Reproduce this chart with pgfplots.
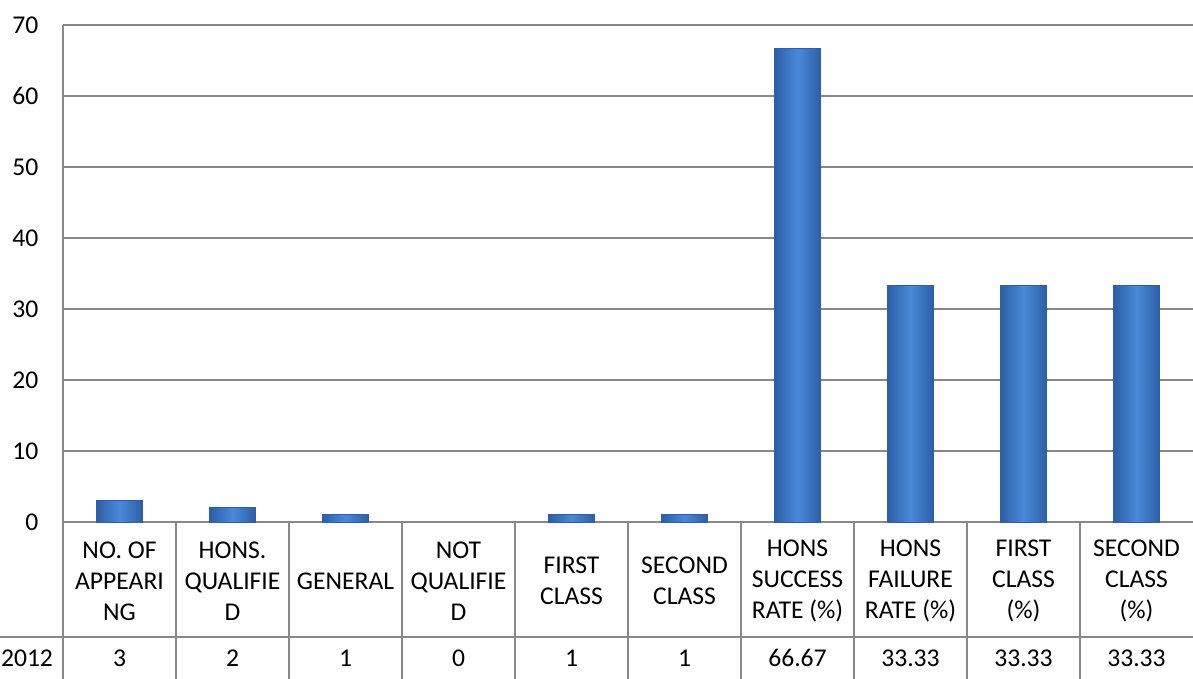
\documentclass[border=0pt]{standalone}
\usepackage{pgfplots}
\pgfplotsset{compat=1.18}
\usepackage{fontspec}
\setmainfont{Carlito}
\definecolor{gridgray}{HTML}{888888}
\definecolor{bardark}{HTML}{2C5FA5}
\definecolor{barmid}{HTML}{4A89DA}
\pgfplotsset{barsty/.style={draw=bardark, line width=0.4pt, left color=bardark, right color=bardark, middle color=barmid, bar shift=0pt, forget plot}}
\begin{document}
\fontsize{12.5}{15.5}\selectfont
\begin{tikzpicture}
\useasboundingbox (-31.5pt,-78.5pt) rectangle (565pt,261pt);
\begin{axis}[
  at={(0,0)}, anchor=south west,
  scale only axis, width=565pt, height=248.5pt,
  xmin=-0.5, xmax=9.5, ymin=0, ymax=70,
  ytick={0,10,...,70},
  xtick={0,...,9},
  xticklabels={{NO. OF\\APPEARI\\NG},{HONS.\\QUALIFIE\\D},{GENERAL},{NOT\\QUALIFIE\\D},{FIRST\\CLASS},{SECOND\\CLASS},{HONS\\SUCCESS\\RATE (\%)},{HONS\\FAILURE\\RATE (\%)},{FIRST\\CLASS\\(\%)},{SECOND\\CLASS\\(\%)}},
  ymajorgrids, grid style={gridgray, line width=0.75pt},
  axis x line*=bottom, axis y line*=left,
  axis line style={gridgray, line width=0.75pt, -},
  major tick length=0,
  tick label style={font=\fontsize{12.8}{15.5}\selectfont},
  /pgf/number format/assume math mode=true,
  xticklabel style={anchor=center, yshift=-29.5pt, align=center},
  yticklabel style={anchor=east, xshift=-8pt},
  extra x ticks={0,...,9},
  extra x tick labels={3,2,1,0,1,1,66.67,33.33,33.33,33.33},
  extra x tick style={xticklabel style={yshift=-38.5pt}},
  ybar, bar width=23pt,
  clip=false,
]
\addplot[barsty] coordinates {(0,3)};
\addplot[barsty] coordinates {(1,2)};
\addplot[barsty] coordinates {(2,1)};
\addplot[barsty, draw=none, fill=none, left color=white, right color=white, middle color=white, opacity=0] coordinates {(3,0)};
\addplot[barsty] coordinates {(4,1)};
\addplot[barsty] coordinates {(5,1)};
\addplot[barsty] coordinates {(6,66.67)};
\addplot[barsty] coordinates {(7,33.33)};
\addplot[barsty] coordinates {(8,33.33)};
\addplot[barsty] coordinates {(9,33.33)};
\end{axis}
\draw[gridgray, line width=0.75pt] (-31.5pt,-57.5pt) -- (565pt,-57.5pt);
\foreach \i in {0,...,9} \draw[gridgray, line width=0.75pt] (\i*56.5pt,0) -- (\i*56.5pt,-78.5pt);
\node[font=\fontsize{12.8}{15.5}\selectfont] at (-18pt,-68pt) {2012};
\end{tikzpicture}
\end{document}
